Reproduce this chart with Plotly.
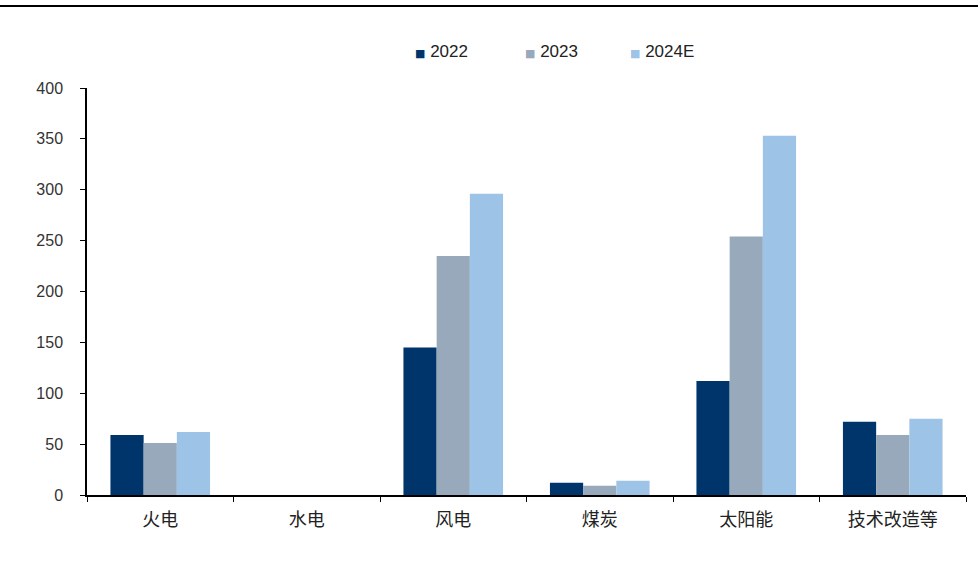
import plotly.graph_objects as go

categories = ["火电", "水电", "风电", "煤炭", "太阳能", "技术改造等"]
series_names = ["2022", "2023", "2024E"]
v2022 = [59, 0, 145, 12, 112, 72]
v2023 = [51, 0, 235, 9, 254, 59]
v2024 = [62, 0, 296, 14, 353, 75]
colors = ["#00356B", "#98A9BB", "#9DC3E6"]
y_ticks = [0, 50, 100, 150, 200, 250, 300, 350, 400]

fig = go.Figure()
for name, vals, col in zip(series_names, [v2022, v2023, v2024], colors):
    fig.add_trace(go.Bar(x=categories, y=vals, name=name, showlegend=False,
                         marker=dict(color=col, line=dict(width=0))))

W, H = 978, 561
ml, mr, mt, mb = 87, 12, 88, 66
pw, ph = W - ml - mr, H - mt - mb

# legend drawn as text annotations (colored square + label)
legend_x = [413, 523, 628]
annotations = []
for name, col, lx in zip(series_names, colors, legend_x):
    annotations.append(dict(
        xref="paper", yref="paper", x=(lx - ml) / pw, y=(H - mb - 52) / ph,
        xanchor="left", yanchor="middle", showarrow=False,
        text=f'<span style="color:{col};font-size:11px;font-family:DejaVu Sans">■</span>'
             f'<span style="font-size:17px"> {name}</span>',
        font=dict(family="Liberation Sans, Arial, sans-serif", size=17, color="#222"),
    ))

fig.update_layout(
    width=W, height=H,
    margin=dict(l=ml, r=mr, t=mt, b=mb),
    paper_bgcolor="white", plot_bgcolor="white",
    barmode="group", bargap=0.32, bargroupgap=0,
    font=dict(family="Liberation Sans, Arial, sans-serif", size=16, color="#333"),
    showlegend=False,
    xaxis=dict(type="category", showline=True, linecolor="black", linewidth=1.5,
               ticks="outside", tickson="boundaries", ticklen=5, tickcolor="black",
               ticklabelstandoff=8,
               tickfont=dict(family="Noto Sans CJK SC", size=18, color="#222"),
               showgrid=False, zeroline=False),
    yaxis=dict(range=[0, 400], tickvals=y_ticks, showline=True, linecolor="black", linewidth=1.5,
               ticks="outside", ticklen=5, tickcolor="black", showgrid=False, zeroline=False,
               ticklabelstandoff=14,
               tickfont=dict(size=16, color="#333")),
    annotations=annotations,
    shapes=[dict(type="line", xref="paper", yref="paper", x0=-ml / pw, x1=1 + mr / pw,
                 y0=(H - mb - 6) / ph, y1=(H - mb - 6) / ph, line=dict(color="black", width=2))],
)

fig.write_html("out.html")
